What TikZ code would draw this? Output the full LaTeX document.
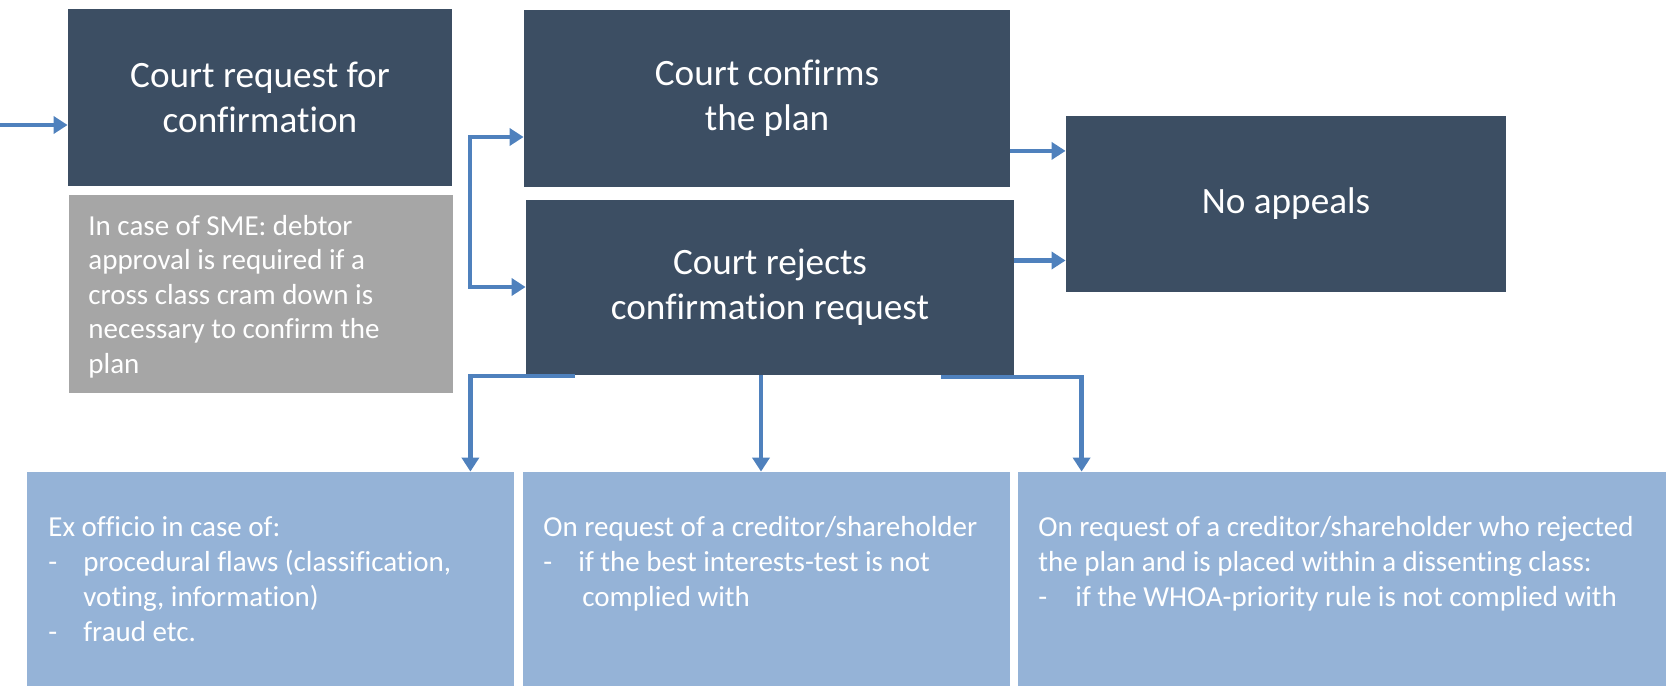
\documentclass[tikz,border=0pt]{standalone}
\usepackage{fontspec}
\setmainfont{Carlito}[Ligatures=NoCommon]
\usetikzlibrary{arrows.meta}
\definecolor{darkbox}{RGB}{60,78,99}
\definecolor{graybox}{RGB}{166,166,166}
\definecolor{lightbox}{RGB}{149,179,215}
\definecolor{arrowblue}{RGB}{79,129,189}
\begin{document}
\begin{tikzpicture}[x=0.5pt,y=-0.5pt,
  darkstyle/.style={fill=darkbox, text=white, inner sep=0pt, align=center, font=\fontsize{18.6}{22.8}\selectfont},
  graystyle/.style={fill=graybox, inner sep=0pt},
  lightstyle/.style={fill=lightbox, inner sep=0pt, minimum width=243.5pt, minimum height=107pt},
  bodytext/.style={text=white, inner sep=0pt, anchor=north west, align=left, font=\fontsize{14.5}{17.2}\selectfont},
  lowtext/.style={bodytext, font=\fontsize{14.5}{17.6}\selectfont},
  conn/.style={draw=arrowblue, line width=2.3pt, -{Triangle[length=7pt,width=8.5pt]}},
  bothconn/.style={draw=arrowblue, line width=2.3pt, {Triangle[length=7pt,width=8.5pt]}-{Triangle[length=7pt,width=8.5pt]}},
]
\useasboundingbox (0,0) rectangle (1666,686);
% boxes
\node[darkstyle, minimum width=192pt, minimum height=88.5pt] (A) at (260,97.5) {Court request for\\confirmation};
\node[graystyle, minimum width=192pt, minimum height=99pt] (S) at (261,294) {};
\node[bodytext] (St) at (88,215) {In case of SME: debtor\\approval is required if a\\cross class cram down is\\necessary to confirm the\\plan};
\node[darkstyle, minimum width=243pt, minimum height=88.5pt] (B) at (767,98) {Court confirms\\the plan};
\node[darkstyle, minimum width=244pt, minimum height=87.5pt] (C) at (770,287) {Court rejects\\confirmation request};
\node[darkstyle, minimum width=220pt, minimum height=88pt] (D) at (1286,203.5) {No appeals};
\node[lightstyle] (E) at (270.5,579) {};
\node[lightstyle] (F) at (766.5,579) {};
\node[lightstyle, minimum width=324pt] (G) at (1342,579) {};
\node[lowtext] (Et) at (48,516) {Ex officio in case of:\\\makebox[17.5pt][l]{-}procedural flaws (classification,\\\hspace*{17.5pt}voting, information)\\\makebox[17.5pt][l]{-}fraud etc.};
\node[lowtext] (Ft) at (543,516) {On request of a creditor/shareholder\\\makebox[17.5pt][l]{-}if the best interests-test is not\\\hspace*{19.5pt}complied with};
\node[lowtext] (Gt) at (1038,516) {On request of a creditor/shareholder who rejected\\the plan and is placed within a dissenting class:\\\makebox[18.5pt][l]{-}if the WHOA-priority rule is not complied with};
% connectors
\coordinate (in) at (0,125);
\draw[conn] (in) -- (in -| A.west);
\coordinate (bt) at (470,137);
\coordinate (bb) at (470,287);
\draw[bothconn] (bt -| B.west) -- (bt) -- (bb) -- (bb -| C.west);
\draw[conn] ([yshift=18pt]B.south east) -- ([yshift=18pt]B.south east -| D.west);
\draw[conn] ([yshift=13.25pt]C.east) -- ([yshift=13.25pt]C.east -| D.west);
\draw[conn] ([xshift=24.5pt,yshift=-0.5pt]C.south west) -| ([xshift=-22pt]E.north east);
\draw[conn] ([xshift=-4.5pt]C.south) -- ([xshift=-4.5pt]C.south |- F.north);
\draw[conn] ([xshift=-36.5pt,yshift=-1pt]C.south east) -| ([xshift=32pt]G.north west);
\end{tikzpicture}
\end{document}
